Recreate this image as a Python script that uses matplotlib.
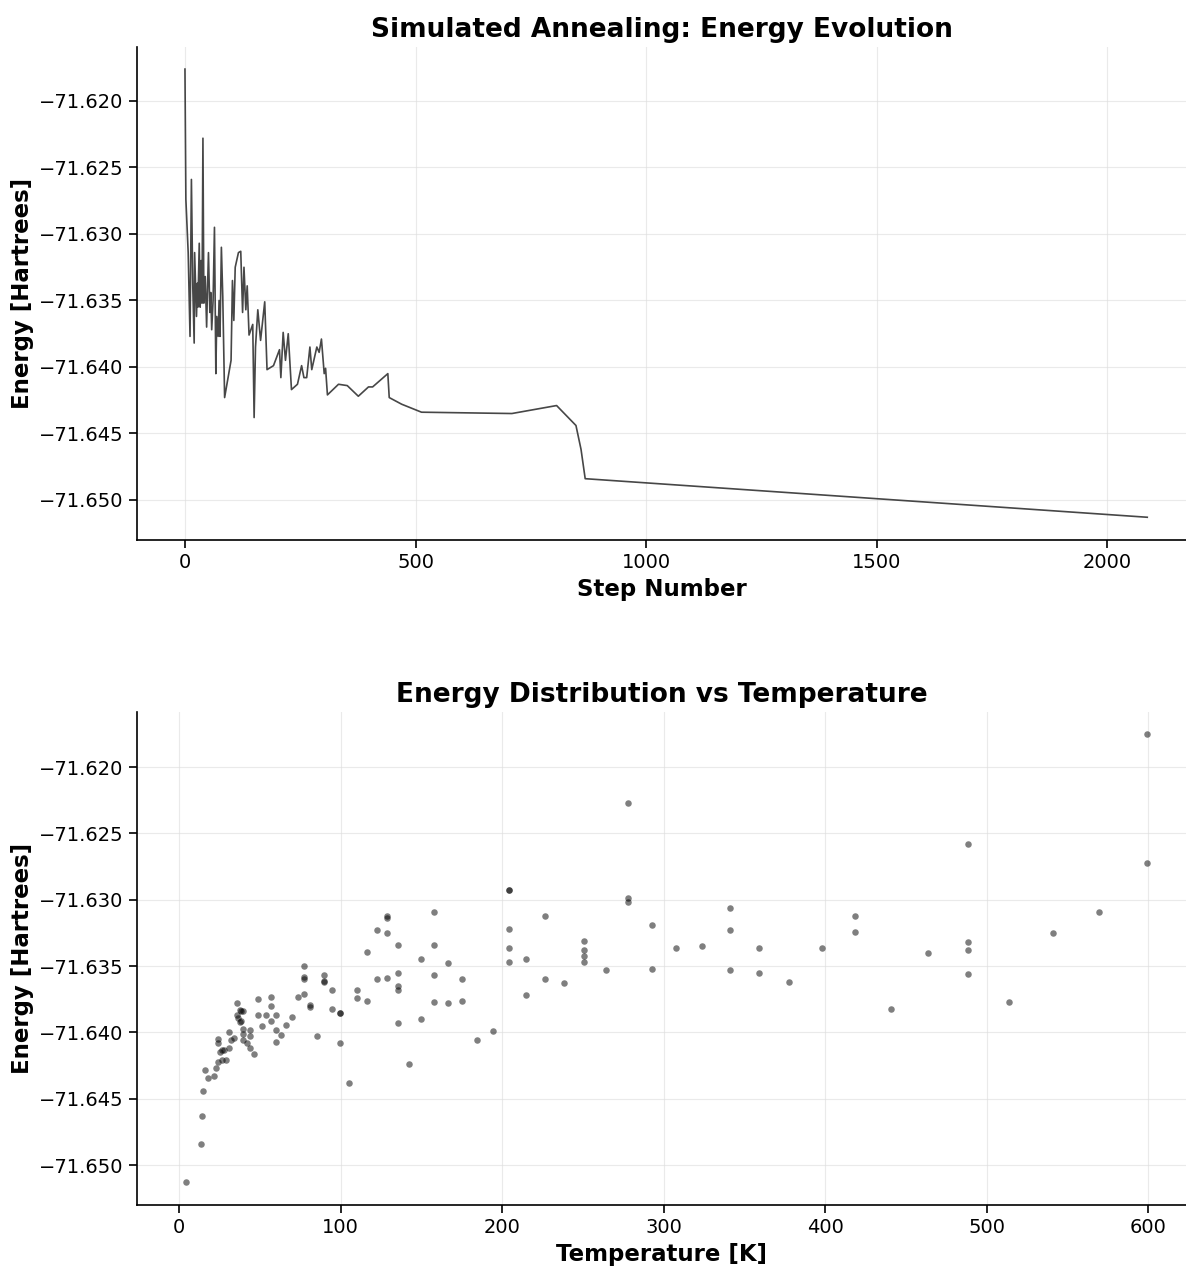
import matplotlib
matplotlib.use("Agg")
import matplotlib.pyplot as plt
from matplotlib.ticker import ScalarFormatter

# ---- Top panel: energy vs step ----
steps = [0, 2, 7, 11, 14, 17, 20, 21, 25, 27, 28, 31, 33, 35, 37, 39, 41, 44, 47, 49,
         51, 54, 56, 58, 61, 64, 67, 69, 72, 74, 76, 79, 82, 86, 100, 103, 106, 109, 116, 121,
         125, 128, 132, 135, 139, 147, 150, 153, 158, 164, 173, 178, 192, 205, 208, 213, 218, 224, 231, 244,
         253, 258, 264, 271, 275, 286, 291, 296, 302, 305, 309, 333, 352, 376, 398, 407, 440, 443, 470, 513,
         709, 806, 848, 859, 868, 2087]
energies = [-71.6176, -71.6274, -71.6314, -71.6377, -71.6259, -71.6340, -71.6382, -71.6314, -71.6362, -71.6337,
            -71.6355, -71.6307, -71.6355, -71.6320, -71.6352, -71.6228, -71.6352, -71.6332, -71.6370, -71.6340,
            -71.6314, -71.6359, -71.6344, -71.6372, -71.6350, -71.6295, -71.6405, -71.6362, -71.6377, -71.6350,
            -71.6377, -71.6310, -71.6347, -71.6423, -71.6395, -71.6335, -71.6365, -71.6325, -71.6314, -71.6313,
            -71.6359, -71.6325, -71.6357, -71.6339, -71.6376, -71.6368, -71.6438, -71.6385, -71.6357, -71.6380,
            -71.6351, -71.6402, -71.6399, -71.6387, -71.6408, -71.6374, -71.6395, -71.6375, -71.6417, -71.6413,
            -71.6399, -71.6408, -71.6408, -71.6385, -71.6402, -71.6385, -71.6389, -71.6379, -71.6405, -71.6401,
            -71.6421, -71.6413, -71.6414, -71.6422, -71.6415, -71.6415, -71.6405, -71.6423, -71.6428, -71.6434,
            -71.6435, -71.6429, -71.6444, -71.6462, -71.6484, -71.6513]

# ---- Bottom panel: energy vs temperature ----
temps = [4.1, 13.8, 14.4, 15.0, 16.1, 17.7, 21.7, 22.9, 24.0, 24.0, 24.0,
         25.4, 26.8, 28.0, 26.4, 29.3, 30.7, 30.7, 32.4, 34.2, 36.1,
         35.7, 36.3, 37.8, 38.2, 39.8, 37.6, 38.5, 39.8, 39.8, 39.8, 41.8,
         44.0, 44.0, 44.2, 46.4, 48.7, 48.7, 51.4, 53.9, 56.8, 56.8, 56.8,
         59.9, 59.9, 59.9, 63.0, 66.3, 69.8, 73.5, 77.2, 77.2, 77.2, 77.2,
         81.3, 81.3, 85.4, 90.0, 90.0, 90.0, 94.7, 94.7, 99.7, 99.7, 99.7, 105.0,
         110.5, 110.5, 116.4, 116.4, 122.3, 122.3,
         128.6, 128.6, 128.6, 128.6, 135.8, 135.8, 135.8, 135.8, 135.8,
         142.7, 150.1, 150.1, 158.1, 158.1, 158.1, 158.1, 166.6, 166.6,
         175.2, 175.2, 184.3, 194.2, 204.3, 204.3, 204.3, 204.3, 204.3,
         215.0, 215.0, 226.4, 226.4, 238.4, 250.9, 250.9, 250.9, 250.9,
         264.2, 277.8, 277.8, 277.8, 292.7, 292.7, 308.0, 324.0,
         341.0, 341.0, 341.0, 359.0, 359.0, 378.0, 397.9, 418.8, 418.8,
         440.9, 464.0, 488.3, 488.3, 488.3, 488.3, 514.0, 541.0, 569.7, 599.6, 599.6]
temp_energies = [-71.6513, -71.6484, -71.6463, -71.6444, -71.6428, -71.6434, -71.6433, -71.6427, -71.6422, -71.6408, -71.6405,
                 -71.6415, -71.6413, -71.6413, -71.6421, -71.6421, -71.6412, -71.6400, -71.6406, -71.6404, -71.6378,
                 -71.6387, -71.6389, -71.6383, -71.6391, -71.6384, -71.6392, -71.6384, -71.6397, -71.6401, -71.6406, -71.6408,
                 -71.6398, -71.6403, -71.6412, -71.6416, -71.6375, -71.6387, -71.6395, -71.6387, -71.6373, -71.6380, -71.6391,
                 -71.6387, -71.6398, -71.6407, -71.6402, -71.6394, -71.6388, -71.6373, -71.6350, -71.6358, -71.6360, -71.6371,
                 -71.6379, -71.6381, -71.6403, -71.6357, -71.6362, -71.6361, -71.6368, -71.6382, -71.6385, -71.6385, -71.6408, -71.6438,
                 -71.6368, -71.6374, -71.6339, -71.6376, -71.6323, -71.6360,
                 -71.6312, -71.6314, -71.6325, -71.6359, -71.6334, -71.6355, -71.6365, -71.6368, -71.6393,
                 -71.6424, -71.6345, -71.6390, -71.6309, -71.6334, -71.6357, -71.6377, -71.6348, -71.6378,
                 -71.6360, -71.6376, -71.6406, -71.6399, -71.6293, -71.6293, -71.6322, -71.6336, -71.6347,
                 -71.6345, -71.6372, -71.6312, -71.6360, -71.6363, -71.6331, -71.6338, -71.6342, -71.6347,
                 -71.6353, -71.6227, -71.6299, -71.6302, -71.6319, -71.6352, -71.6336, -71.6335,
                 -71.6306, -71.6323, -71.6353, -71.6336, -71.6355, -71.6362, -71.6336, -71.6312, -71.6324,
                 -71.6382, -71.6340, -71.6258, -71.6332, -71.6338, -71.6356, -71.6377, -71.6325, -71.6309, -71.6175, -71.6272]

W, H = 1186, 1267
fig = plt.figure(figsize=(W / 100, H / 100), dpi=100)
plt.rcParams['font.family'] = ['DejaVu Sans']
plt.rcParams['axes.unicode_minus'] = True

ax1 = fig.add_axes([137 / W, 1 - 540 / H, (W - 137) / W, (540 - 47) / H])
ax2 = fig.add_axes([137 / W, 1 - 1205 / H, (W - 137) / W, (1205 - 712) / H])

ax1.plot(steps, energies, color='#333333', lw=1.2, alpha=0.9)
ax1.set_xlim(-104, 2171)
ax1.set_ylim(-71.65301, -71.61594)
ax1.set_title('Simulated Annealing: Energy Evolution', fontsize=19, fontweight='bold', pad=7.5)
ax1.set_xlabel('Step Number', fontsize=16.5, fontweight='bold', labelpad=4)
ax1.set_ylabel('Energy [Hartrees]', fontsize=16.5, fontweight='bold')

ax2.scatter(temps, temp_energies, s=22, color='black', alpha=0.5, linewidths=0)
ax2.set_xlim(-26, 623.5)
ax2.set_ylim(-71.6530, -71.61585)
ax2.set_title('Energy Distribution vs Temperature', fontsize=19, fontweight='bold', pad=7.5)
ax2.set_xlabel('Temperature [K]', fontsize=16.5, fontweight='bold', labelpad=4)
ax2.set_ylabel('Energy [Hartrees]', fontsize=16.5, fontweight='bold')

for ax in (ax1, ax2):
    ax.spines['top'].set_visible(False)
    ax.spines['right'].set_visible(False)
    ax.spines['left'].set_linewidth(1.2)
    ax.spines['bottom'].set_linewidth(1.2)
    ax.grid(True, color='#dddddd', alpha=0.6, lw=0.8)
    ax.set_axisbelow(True)
    ax.tick_params(labelsize=14, width=1.2, length=6)
    fmt = ScalarFormatter(useOffset=False)
    ax.yaxis.set_major_formatter(fmt)

fig.savefig('out.png', dpi=100)
